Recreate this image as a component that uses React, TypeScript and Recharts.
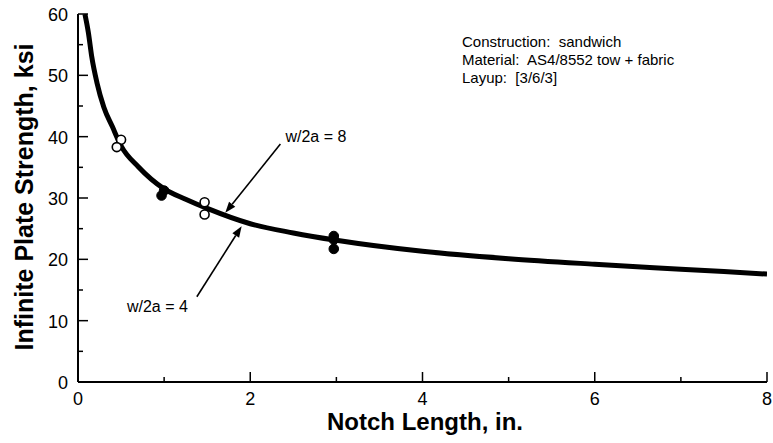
import React from "react";
import { ComposedChart, Line, Scatter, XAxis, YAxis, ReferenceLine } from "recharts";

// fitted curve
const curveX = [0.08, 0.12, 0.16, 0.22, 0.3, 0.4, 0.5, 0.7, 1, 1.25, 1.5, 2, 2.5, 3, 4, 5, 6, 7, 8];
const curveY = [60, 57, 53, 48.8, 44.8, 41.6, 38.5, 35.1, 31.5, 29.8, 28.3, 25.8, 24.3, 23.1, 21.3, 20.1, 19.2, 18.4, 17.6];

// test points
const openX = [0.5, 0.45, 1.47, 1.47];
const openY = [39.5, 38.3, 29.3, 27.3];
const filledX = [0.97, 1.0, 2.97, 2.97, 2.97];
const filledY = [30.4, 31.2, 23.8, 23.2, 21.7];

const xTicks = [0, 1, 2, 3, 4, 5, 6, 7, 8];
const yTicks = [0, 5, 10, 15, 20, 25, 30, 35, 40, 45, 50, 55, 60];

const notes = ["Construction:  sandwich", "Material:  AS4/8552 tow + fabric", "Layup:  [3/6/3]"];

// arrows: label, start, end
const arrow8 = { label: "w/2a = 8", from: { x: 2.35, y: 38.8 }, to: { x: 1.71, y: 27.6 } };
const arrow4 = { label: "w/2a = 4", from: { x: 1.38, y: 13.9 }, to: { x: 1.9, y: 25.4 } };

const font = "'Liberation Sans', Arial, Helvetica, sans-serif";

const curve = curveX.map((x, i) => ({ x, y: curveY[i] }));
const openPts = openX.map((x, i) => ({ x, y: openY[i] }));
const filledPts = filledX.map((x, i) => ({ x, y: filledY[i] }));

function XTick(props: any) {
  const { x, y, payload } = props;
  const major = payload.value % 2 === 0;
  return (
    <g>
      <line x1={x} y1={y} x2={x} y2={y - (major ? 10 : 5)} stroke="#000" strokeWidth={1.5} />
      {major && (
        <text x={x} y={y + 23} textAnchor="middle" fontSize={18} fontFamily={font} fill="#000">
          {payload.value}
        </text>
      )}
    </g>
  );
}

function YTick(props: any) {
  const { x, y, payload } = props;
  const major = payload.value % 10 === 0;
  return (
    <g>
      <line x1={x} y1={y} x2={x + (major ? 10 : 5)} y2={y} stroke="#000" strokeWidth={1.5} />
      {major && (
        <text x={x - 10} y={y + 7} textAnchor="end" fontSize={18} fontFamily={font} fill="#000">
          {payload.value}
        </text>
      )}
    </g>
  );
}

function arrowShape(label: string, textSide: "right" | "left") {
  return (props: any) => {
    const { x1, y1, x2, y2 } = props;
    const ang = Math.atan2(y2 - y1, x2 - x1);
    const len = 11;
    const half = 4;
    const bx = x2 - len * Math.cos(ang);
    const by = y2 - len * Math.sin(ang);
    const px = -Math.sin(ang) * half;
    const py = Math.cos(ang) * half;
    return (
      <g>
        <line x1={x1} y1={y1} x2={bx} y2={by} stroke="#000" strokeWidth={1.6} />
        <polygon points={`${x2},${y2} ${bx + px},${by + py} ${bx - px},${by - py}`} fill="#000" />
        {textSide === "right" ? (
          <text x={x1 + 5} y={y1 - 2} fontSize={16} fontFamily={font} fill="#000">
            {label}
          </text>
        ) : (
          <text x={x1 - 9} y={y1 + 15} textAnchor="end" fontSize={16} fontFamily={font} fill="#000">
            {label}
          </text>
        )}
      </g>
    );
  };
}

export default function App() {
  return (
    <div style={{ position: "absolute", left: 0, top: 0, background: "#fff" }}>
      <ComposedChart width={773} height={443} margin={{ top: 14, right: 6, left: 0, bottom: 0 }}>
        <XAxis
          type="number"
          dataKey="x"
          domain={[0, 8]}
          ticks={xTicks}
          interval={0}
          height={61}
          tickSize={0}
          tickMargin={0}
          tickLine={false}
          tick={<XTick />}
          axisLine={{ stroke: "#000", strokeWidth: 2 }}
          allowDataOverflow
        />
        <YAxis
          type="number"
          dataKey="y"
          domain={[0, 60]}
          ticks={yTicks}
          interval={0}
          width={78}
          tickSize={0}
          tickMargin={0}
          tickLine={false}
          tick={<YTick />}
          axisLine={{ stroke: "#000", strokeWidth: 2 }}
          allowDataOverflow
        />
        <Line
          data={curve}
          dataKey="y"
          type="monotone"
          stroke="#000"
          strokeWidth={5}
          dot={false}
          activeDot={false}
          isAnimationActive={false}
        />
        <Scatter
          data={openPts}
          dataKey="y"
          isAnimationActive={false}
          shape={(p: any) => <circle cx={p.cx} cy={p.cy} r={4.5} fill="#fff" stroke="#000" strokeWidth={1.6} />}
        />
        <Scatter
          data={filledPts}
          dataKey="y"
          isAnimationActive={false}
          shape={(p: any) => <circle cx={p.cx} cy={p.cy} r={4.8} fill="#000" stroke="#000" />}
        />
        <ReferenceLine segment={[arrow8.from, arrow8.to]} shape={arrowShape(arrow8.label, "right")} />
        <ReferenceLine segment={[arrow4.from, arrow4.to]} shape={arrowShape(arrow4.label, "left")} />
        <g>
          {notes.map((t, i) => (
            <text key={t} x={462} y={47 + i * 18} fontSize={15} fontFamily={font} fill="#000" style={{ whiteSpace: "pre" }}>
              {t}
            </text>
          ))}
          <text
            x={33}
            y={197}
            transform="rotate(-90 33 197)"
            textAnchor="middle"
            fontSize={25}
            fontWeight="bold"
            fontFamily={font}
            fill="#000"
          >
            Infinite Plate Strength, ksi
          </text>
          <text x={425} y={430} textAnchor="middle" fontSize={24} fontWeight="bold" fontFamily={font} fill="#000">
            Notch Length, in.
          </text>
        </g>
      </ComposedChart>
    </div>
  );
}
